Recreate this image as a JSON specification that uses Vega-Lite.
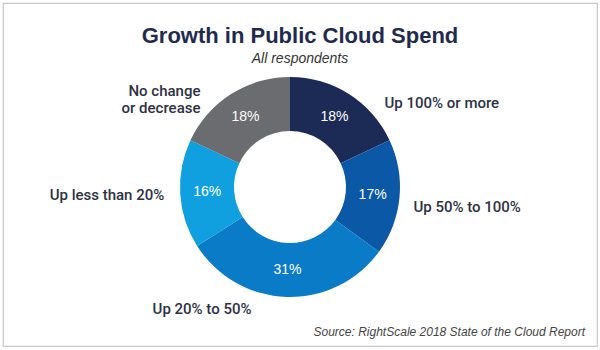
{
  "$schema": "https://vega.github.io/schema/vega-lite/v6.json",
  "width": 600,
  "height": 350,
  "autosize": {"type": "fit", "contains": "padding"},
  "padding": {"left": 3, "top": 3, "right": 3, "bottom": 4},
  "background": "white",
  "config": {
    "view": {"stroke": "#c8c8c8", "strokeWidth": 1.2},
    "font": "Liberation Sans"
  },
  "title": {
    "text": "Growth in Public Cloud Spend",
    "subtitle": "All respondents",
    "anchor": "middle",
    "offset": -64,
    "font": "Liberation Sans",
    "fontSize": 22,
    "fontWeight": "bold",
    "color": "#1f2b4e",
    "subtitleFont": "Liberation Sans",
    "subtitleFontSize": 14,
    "subtitleFontStyle": "italic",
    "subtitleColor": "#333333",
    "subtitlePadding": 4
  },
  "data": {
    "values": [
      {"cat": "Up 100% or more", "share": 0.18},
      {"cat": "Up 50% to 100%", "share": 0.17},
      {"cat": "Up 20% to 50%", "share": 0.31},
      {"cat": "Up less than 20%", "share": 0.16},
      {"cat": "No change\nor decrease", "share": 0.18}
    ]
  },
  "transform": [{"window": [{"op": "row_number", "as": "idx"}]}],
  "layer": [
    {
      "mark": {"type": "arc", "outerRadius": 110, "innerRadius": 56, "x": {"expr": "width/2 - 10"}, "y": {"expr": "height/2 + 12.5"}},
      "encoding": {
        "theta": {"field": "share", "type": "quantitative", "stack": true},
        "order": {"field": "idx", "type": "quantitative"},
        "color": {
          "field": "cat",
          "type": "nominal",
          "legend": null,
          "sort": null,
          "scale": {
            "domain": ["Up 100% or more", "Up 50% to 100%", "Up 20% to 50%", "Up less than 20%", "No change\nor decrease"],
            "range": ["#1c2a56", "#0b59a6", "#0a7cc7", "#10a0df", "#6b6c6f"]
          }
        }
      }
    },
    {
      "mark": {"type": "text", "radius": 83, "fill": "white", "fontSize": 14, "align": "center", "baseline": "middle", "x": {"expr": "width/2 - 10"}, "y": {"expr": "height/2 + 12.5"}},
      "encoding": {
        "theta": {"field": "share", "type": "quantitative", "stack": true},
        "order": {"field": "idx", "type": "quantitative"},
        "detail": {"field": "cat", "type": "nominal"},
        "text": {"field": "share", "type": "quantitative", "format": ".0%"}
      }
    },
    {
      "mark": {"type": "text", "radius": 126, "font": "Roboto", "fontWeight": 500, "fill": "#2e3142", "fontSize": 15, "align": "left", "baseline": "middle", "dx": 27, "dy": 22, "x": {"expr": "width/2 - 10"}, "y": {"expr": "height/2 + 12.5"}},
      "encoding": {
        "theta": {"field": "share", "type": "quantitative", "stack": true},
        "order": {"field": "idx", "type": "quantitative"},
        "detail": {"field": "cat", "type": "nominal"},
        "text": {"condition": {"test": "datum.cat === 'Up 100% or more'", "field": "cat"}, "value": ""}
      }
    },
    {
      "mark": {"type": "text", "radius": 126, "font": "Roboto", "fontWeight": 500, "fill": "#2e3142", "fontSize": 15, "align": "left", "baseline": "middle", "dx": -2, "dy": 8, "x": {"expr": "width/2 - 10"}, "y": {"expr": "height/2 + 12.5"}},
      "encoding": {
        "theta": {"field": "share", "type": "quantitative", "stack": true},
        "order": {"field": "idx", "type": "quantitative"},
        "detail": {"field": "cat", "type": "nominal"},
        "text": {"condition": {"test": "datum.cat === 'Up 50% to 100%'", "field": "cat"}, "value": ""}
      }
    },
    {
      "mark": {"type": "text", "radius": 126, "font": "Roboto", "fontWeight": 500, "fill": "#2e3142", "fontSize": 15, "align": "center", "baseline": "middle", "dx": -84, "dy": -4, "x": {"expr": "width/2 - 10"}, "y": {"expr": "height/2 + 12.5"}},
      "encoding": {
        "theta": {"field": "share", "type": "quantitative", "stack": true},
        "order": {"field": "idx", "type": "quantitative"},
        "detail": {"field": "cat", "type": "nominal"},
        "text": {"condition": {"test": "datum.cat === 'Up 20% to 50%'", "field": "cat"}, "value": ""}
      }
    },
    {
      "mark": {"type": "text", "radius": 126, "font": "Roboto", "fontWeight": 500, "fill": "#2e3142", "fontSize": 15, "align": "right", "baseline": "middle", "dx": 0, "dy": 0, "x": {"expr": "width/2 - 10"}, "y": {"expr": "height/2 + 12.5"}},
      "encoding": {
        "theta": {"field": "share", "type": "quantitative", "stack": true},
        "order": {"field": "idx", "type": "quantitative"},
        "detail": {"field": "cat", "type": "nominal"},
        "text": {"condition": {"test": "datum.cat === 'Up less than 20%'", "field": "cat"}, "value": ""}
      }
    },
    {
      "mark": {"type": "text", "radius": 126, "font": "Roboto", "fontWeight": 500, "fill": "#2e3142", "fontSize": 15, "align": "right", "baseline": "middle", "dx": -22, "dy": 10, "lineBreak": "\n", "lineHeight": 17, "x": {"expr": "width/2 - 10"}, "y": {"expr": "height/2 + 12.5"}},
      "encoding": {
        "theta": {"field": "share", "type": "quantitative", "stack": true},
        "order": {"field": "idx", "type": "quantitative"},
        "detail": {"field": "cat", "type": "nominal"},
        "text": {"condition": {"test": "datum.cat === 'No change\\nor decrease'", "field": "cat"}, "value": ""}
      }
    },
    {
      "data": {"values": [{"note": "Source: RightScale 2018 State of the Cloud Report"}]},
      "mark": {"type": "text", "align": "right", "baseline": "alphabetic", "fontSize": 12, "fontStyle": "italic", "fontWeight": "normal", "fill": "#444444", "dx": -12, "dy": -10},
      "encoding": {
        "x": {"value": "width"},
        "y": {"value": "height"},
        "text": {"field": "note", "type": "nominal"}
      }
    }
  ]
}
